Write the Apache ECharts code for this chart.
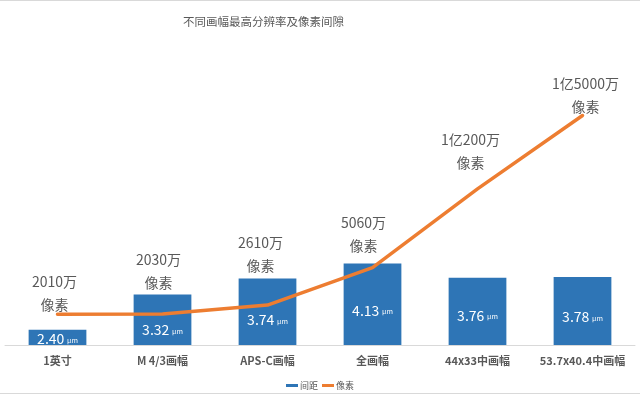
<!DOCTYPE html>
<html>
<head>
<meta charset="utf-8">
<script src="https://cdn.jsdelivr.net/npm/echarts@6/dist/echarts.min.js"></script>
<style>html,body{margin:0;padding:0;background:#fff}#c{width:640px;height:394px}</style>
</head>
<body>
<div id="c"></div>
<script>
// ---- data ----
const categories = ['1英寸', 'M 4/3画幅', 'APS-C画幅', '全画幅', '44x33中画幅', '53.7x40.4中画幅'];
const pitchValues = [2.40, 3.32, 3.74, 4.13, 3.76, 3.78];          // 间距 (μm)
const pixelValues = [2010, 2030, 2610, 5060, 10200, 15000];          // 像素 (万)
const pixelLabels = ['2010万', '2030万', '2610万', '5060万', '1亿200万', '1亿5000万'];
const seriesNames = ['间距', '像素'];

// ---- label placement (layout only) ----
const lineLabelOffsets = [[-3, 2.5], [-4, -19.5], [-7, -27.5], [-9, -9.5], [-7, -14.5], [3, 3.5]];
const barLabelOffsets = [[0, 1], [0, 10], [0, 8], [0, 6], [0, 4], [0, 6]];

const chart = echarts.init(document.getElementById('c'));
const font = '"Noto Sans CJK SC", "Noto Sans", sans-serif';

chart.setOption({
  animation: false,
  backgroundColor: '#fff',
  textStyle: { fontFamily: font },
  title: {
    text: '不同画幅最高分辨率及像素间隙',
    left: 178, top: 11,
    textStyle: { fontSize: 11.5, fontWeight: 'normal', color: '#595959', fontFamily: font }
  },
  legend: {
    data: seriesNames,
    left: 'center', top: 376,
    icon: 'rect', itemWidth: 12, itemHeight: 3, itemGap: 4,
    textStyle: { fontSize: 9, color: '#595959', padding: [0, 0, 0, -3] }
  },
  grid: { left: 5, right: 5, top: 39, bottom: 49, containLabel: false },
  xAxis: {
    type: 'category', data: categories,
    axisLine: { lineStyle: { color: '#d9d9d9', width: 1 } },
    axisTick: { show: false },
    axisLabel: { fontSize: 11, fontWeight: 'bold', color: '#595959', margin: 10, interval: 0 }
  },
  yAxis: [
    { type: 'value', min: 2, max: 10, show: false, splitLine: { show: false } },
    { type: 'value', min: 0, max: 20000, show: false, splitLine: { show: false } }
  ],
  series: [
    {
      name: seriesNames[0], type: 'bar', yAxisIndex: 0, barWidth: '55%',
      itemStyle: { color: '#2E75B6' },
      data: pitchValues.map((v, i) => ({
        value: v,
        label: { offset: barLabelOffsets[i] }
      })),
      label: {
        show: true, position: 'inside',
        formatter: p => '{v|' + p.value.toFixed(2) + '} {u|μm}',
        rich: {
          v: { fontSize: 14, color: '#fff', fontFamily: font },
          u: { fontSize: 7, color: '#fff', fontFamily: font, padding: [3, 0, 0, 0] }
        }
      },
      z: 2
    },
    {
      name: seriesNames[1], type: 'line', yAxisIndex: 1,
      symbol: 'circle', symbolSize: 1, showSymbol: true,
      lineStyle: { color: '#ED7D31', width: 3.5, cap: 'round' },
      itemStyle: { color: '#ED7D31' },
      data: pixelValues.map((v, i) => ({
        value: v,
        label: { offset: lineLabelOffsets[i] }
      })),
      label: {
        show: true, position: 'top', distance: 0,
        formatter: p => pixelLabels[p.dataIndex] + '\n像素',
        fontSize: 14, lineHeight: 23, color: '#595959', fontFamily: font, align: 'center'
      },
      z: 3
    }
  ],
  graphic: [
    { type: 'line', shape: { x1: 0, y1: 0.5, x2: 640, y2: 0.5 }, style: { stroke: '#d9d9d9', lineWidth: 1 }, silent: true },
    { type: 'line', shape: { x1: 0, y1: 393.5, x2: 640, y2: 393.5 }, style: { stroke: '#d9d9d9', lineWidth: 1 }, silent: true }
  ]
});
</script>
</body>
</html>
